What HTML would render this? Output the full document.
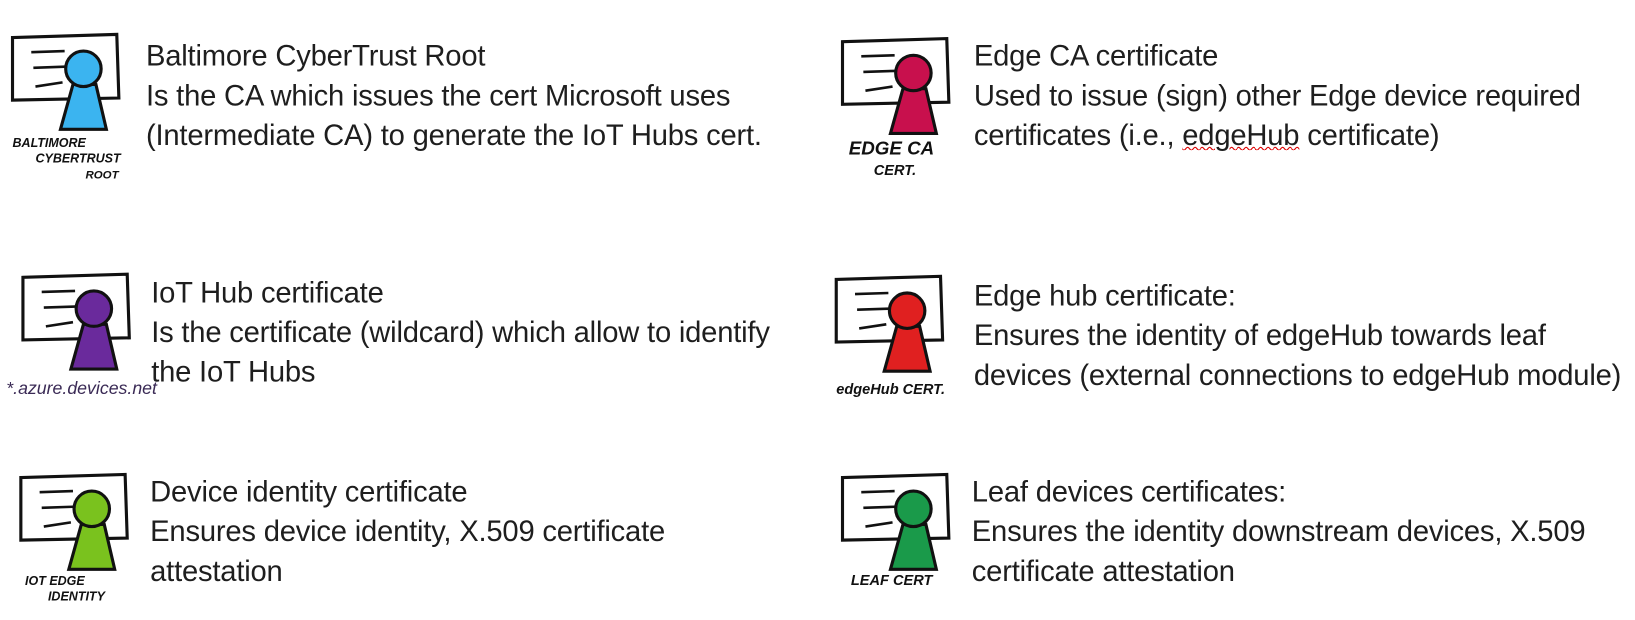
<!DOCTYPE html>
<html><head><meta charset="utf-8"><style>
body{margin:0;width:1635px;height:620px;background:#fff;position:relative;overflow:hidden;font-family:"Liberation Sans",sans-serif;color:#1e1e1e}
#c{position:absolute;left:0;top:0;width:1568px;height:595px;transform:scale(1.0427);transform-origin:0 0}
.t{position:absolute;font-size:28px;line-height:38px;white-space:nowrap;letter-spacing:-0.2px}
svg{position:absolute;left:0;top:0}
</style></head><body><div id="c">
<svg width="1568" height="595">
<defs>
<g id="cert">
<path d="M0 0 L100 -3 L102 58 L0 60 Z" fill="#fff" stroke="#111" stroke-width="3"/>
<path d="M18 14 L50 13 M20 29 L50 28 M22 47 L48 43" stroke="#111" stroke-width="2.5"/>
</g>
</defs>
<g font-family="Liberation Sans,sans-serif" font-weight="bold" font-style="italic">
<g transform="translate(12,36)"><use href="#cert"/><path d="M58 45 L46 88 L90 88 L80 45 Z" fill="#3bb4f0" stroke="#111" stroke-width="3"/><circle cx="68" cy="30" r="17" fill="#3bb4f0" stroke="#111" stroke-width="3"/><text x="0" y="105" font-size="12" fill="#111">BALTIMORE</text><text x="22" y="120" font-size="12" fill="#111">CYBERTRUST</text><text x="70" y="135" font-size="11" fill="#111">ROOT</text></g>
<g transform="translate(808,40)"><use href="#cert"/><path d="M58 45 L46 88 L90 88 L80 45 Z" fill="#c8104d" stroke="#111" stroke-width="3"/><circle cx="68" cy="30" r="17" fill="#c8104d" stroke="#111" stroke-width="3"/><text x="6" y="108" font-size="18" fill="#111">EDGE CA</text><text x="30" y="128" font-size="14" fill="#111">CERT.</text></g>
<g transform="translate(22,266)"><use href="#cert"/><path d="M58 45 L46 88 L90 88 L80 45 Z" fill="#6a2a9c" stroke="#111" stroke-width="3"/><circle cx="68" cy="30" r="17" fill="#6a2a9c" stroke="#111" stroke-width="3"/><text x="-16" y="112" font-size="17" fill="#3a2a55" font-weight="normal">*.azure.devices.net</text></g>
<g transform="translate(802,268)"><use href="#cert"/><path d="M58 45 L46 88 L90 88 L80 45 Z" fill="#e02020" stroke="#111" stroke-width="3"/><circle cx="68" cy="30" r="17" fill="#e02020" stroke="#111" stroke-width="3"/><text x="0" y="110" font-size="14" fill="#111">edgeHub CERT.</text></g>
<g transform="translate(20,458)"><use href="#cert"/><path d="M58 45 L46 88 L90 88 L80 45 Z" fill="#7ac21e" stroke="#111" stroke-width="3"/><circle cx="68" cy="30" r="17" fill="#7ac21e" stroke="#111" stroke-width="3"/><text x="4" y="103" font-size="12" fill="#111">IOT EDGE</text><text x="26" y="118" font-size="12" fill="#111">IDENTITY</text></g>
<g transform="translate(808,458)"><use href="#cert"/><path d="M58 45 L46 88 L90 88 L80 45 Z" fill="#1a9a4a" stroke="#111" stroke-width="3"/><circle cx="68" cy="30" r="17" fill="#1a9a4a" stroke="#111" stroke-width="3"/><text x="8" y="103" font-size="14" fill="#111">LEAF CERT</text></g>
</g>
</svg>
<div class="t" style="left:140px;top:35px">Baltimore CyberTrust Root<br>Is the CA which issues the cert Microsoft uses<br>(Intermediate CA) to generate the IoT Hubs cert.</div>
<div class="t" style="left:934px;top:35px">Edge CA certificate<br>Used to issue (sign) other Edge device required<br>certificates (i.e., <span style="text-decoration:underline wavy #d00;text-decoration-thickness:1px">edgeHub</span> certificate)</div>
<div class="t" style="left:145px;top:262px">IoT Hub certificate<br>Is the certificate (wildcard) which allow to identify<br>the IoT Hubs</div>
<div class="t" style="left:934px;top:265px">Edge hub certificate:<br>Ensures the identity of edgeHub towards leaf<br>devices (external connections to edgeHub module)</div>
<div class="t" style="left:144px;top:453px">Device identity certificate<br>Ensures device identity, X.509 certificate<br>attestation</div>
<div class="t" style="left:932px;top:453px">Leaf devices certificates:<br>Ensures the identity downstream devices, X.509<br>certificate attestation</div>
</div></body></html>
